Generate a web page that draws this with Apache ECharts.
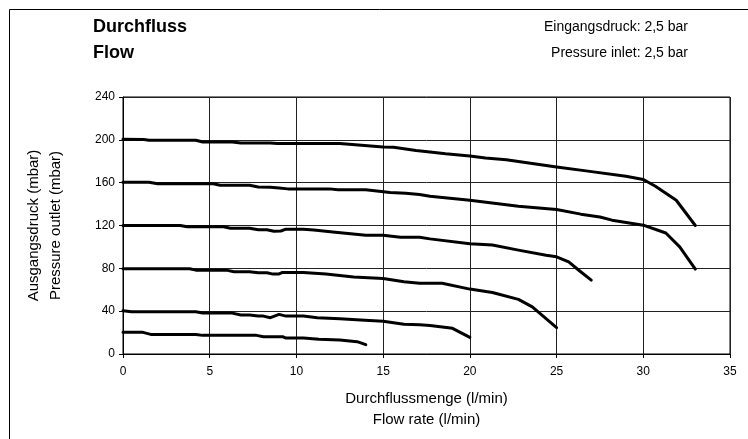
<!DOCTYPE html>
<html>
<head>
<meta charset="utf-8">
<script src="https://cdn.jsdelivr.net/npm/echarts@6/dist/echarts.min.js"></script>
<style>
html,body{margin:0;padding:0;background:#fff;}
#chart{width:748px;height:439px;}
</style>
</head>
<body>
<div id="chart"></div>
<script>
// Curves: [flow l/min, outlet pressure mbar]
const curve200 = [[0,200.5],[1.2,200.3],[1.5,199.6],[4.2,199.6],[4.6,198],[6.3,198],[6.8,197],[8.5,197],[8.9,196.5],[12.5,196.5],[15,193.4],[15.6,193],[16.9,190],[17.7,188.7],[18.6,187],[20,185],[20.9,183],[22.1,181.5],[25,174.7],[26.7,171],[29,166],[30,163],[30.7,156.7],[31.9,143.6],[33,120]];
const curve160 = [[0,160.4],[1.5,160.3],[2,158.9],[5.2,158.9],[5.6,157.6],[7.3,157.5],[7.8,156],[8.5,155.8],[9,155],[9.5,154.2],[11.9,154.2],[12.4,153.3],[14,153.3],[15.4,150.8],[16.3,150.2],[17.1,149],[17.7,147.4],[20,143.6],[22.8,138],[25,135],[26.4,130.6],[27.5,128],[28.2,125],[30,120.3],[31.3,113],[32.1,100],[33,79.3]];
const curve120 = [[0,120],[3.3,120],[3.7,118.8],[5.8,118.8],[6.2,117.5],[7.3,117.5],[7.8,116],[8.3,116],[8.7,114.7],[9.1,114.9],[9.4,116.6],[10.4,116.6],[11,115.7],[12.1,114],[14,111],[15,111],[16,109],[17.1,109],[17.7,107.5],[20,103],[21.3,101.7],[22.8,97],[24.4,92.3],[25,90.8],[25.7,86],[26.3,78],[27,69]];
const curve80 = [[0,79.6],[3.85,79.6],[4.2,78.3],[5.96,78.3],[6.4,76.8],[7.3,76.8],[7.8,75.9],[8.3,75.9],[8.65,74.6],[9.0,74.8],[9.2,76.2],[10.4,76.2],[11.7,74.6],[13.3,72],[15,70.6],[16.2,67.5],[17.1,66],[18.4,66],[20,60.6],[21.3,57.5],[22.8,51],[23.6,44],[25,24.6]];
const curve40 = [[0,40.4],[0.5,39.5],[4.2,39.5],[4.6,38.2],[6.3,38.2],[6.8,36.4],[7.3,36.4],[7.8,35.4],[8.1,35.4],[8.5,33.9],[9.0,37],[9.4,35.4],[10.4,35.4],[11.2,33.9],[12.5,33],[13.7,31.7],[15,30.5],[16.2,27.7],[17.1,27.2],[17.7,26.7],[19,24],[20,15.5]];
const curve20 = [[0,20.2],[1.15,20.2],[1.6,18.3],[4.2,18.3],[4.6,17.4],[7.7,17.4],[8.1,16.2],[9.2,16.2],[9.4,14.9],[10.4,14.9],[11.3,13.7],[12.5,13],[13.5,11.5],[14,8.7]];
const curves = [curve200, curve160, curve120, curve80, curve40, curve20];

const xTicks = [0,5,10,15,20,25,30,35];
const yTicks = [0,40,80,120,160,200,240];

const titleLines = ['Durchfluss','Flow'];
const noteLines = ['Eingangsdruck: 2,5 bar','Pressure inlet: 2,5 bar'];
const xName = 'Durchflussmenge (l/min)\nFlow rate (l/min)';
const yName = 'Ausgangsdruck (mbar)\nPressure outlet (mbar)';

const FONT = '"Liberation Sans", Arial, sans-serif';
const chart = echarts.init(document.getElementById('chart'), null, {renderer:'canvas'});

chart.setOption({
  animation: false,
  backgroundColor: '#ffffff',
  textStyle: {fontFamily: FONT, color: '#000'},
  grid: {left: 123, right: 18, top: 97, bottom: 85, show: true, borderColor: '#000', borderWidth: 1},
  graphic: [
    {type:'rect', shape:{x:9.5,y:9.5,width:760,height:460}, style:{fill:'none',stroke:'#000',lineWidth:1}, silent:true, z:-1},
    {type:'text', x:93, y:27, style:{text:titleLines[0], font:'bold 18px '+FONT, fill:'#000', textVerticalAlign:'middle'}},
    {type:'text', x:93, y:53, style:{text:titleLines[1], font:'bold 18px '+FONT, fill:'#000', textVerticalAlign:'middle'}},
    {type:'text', x:688, y:27, style:{text:noteLines[0], font:'14px '+FONT, fill:'#000', textAlign:'right', textVerticalAlign:'middle'}},
    {type:'text', x:688, y:53, style:{text:noteLines[1], font:'14px '+FONT, fill:'#000', textAlign:'right', textVerticalAlign:'middle'}}
  ],
  xAxis: {
    type: 'value', min: 0, max: 35, interval: 5,
    name: xName, nameLocation: 'middle', nameGap: 34,
    nameTextStyle: {fontSize: 15, lineHeight: 21, color:'#000', fontFamily: FONT},
    axisLine: {show:true, lineStyle:{color:'#000', width:1}},
    axisTick: {show:true, inside:false, length:4, lineStyle:{color:'#000'}},
    axisLabel: {fontSize: 12, margin: 12, color:'#000', fontFamily: FONT},
    splitLine: {show:true, lineStyle:{color:'#222', width:1}}
  },
  yAxis: {
    type: 'value', min: 0, max: 240, interval: 40,
    name: yName, nameLocation: 'middle', nameGap: 56, nameRotate: 90,
    nameTextStyle: {fontSize: 15, lineHeight: 22, color:'#000', fontFamily: FONT},
    axisLine: {show:true, lineStyle:{color:'#000', width:1}},
    axisTick: {show:true, inside:false, length:4, lineStyle:{color:'#000'}},
    axisLabel: {fontSize: 12, margin: 8, color:'#000', fontFamily: FONT},
    splitLine: {show:true, lineStyle:{color:'#222', width:1}}
  },
  series: curves.map(function(c){
    return {type:'line', data:c, symbol:'none', smooth:false,
      lineStyle:{color:'#000', width:3, cap:'round', join:'round'}, z:3};
  })
});
</script>
</body>
</html>
